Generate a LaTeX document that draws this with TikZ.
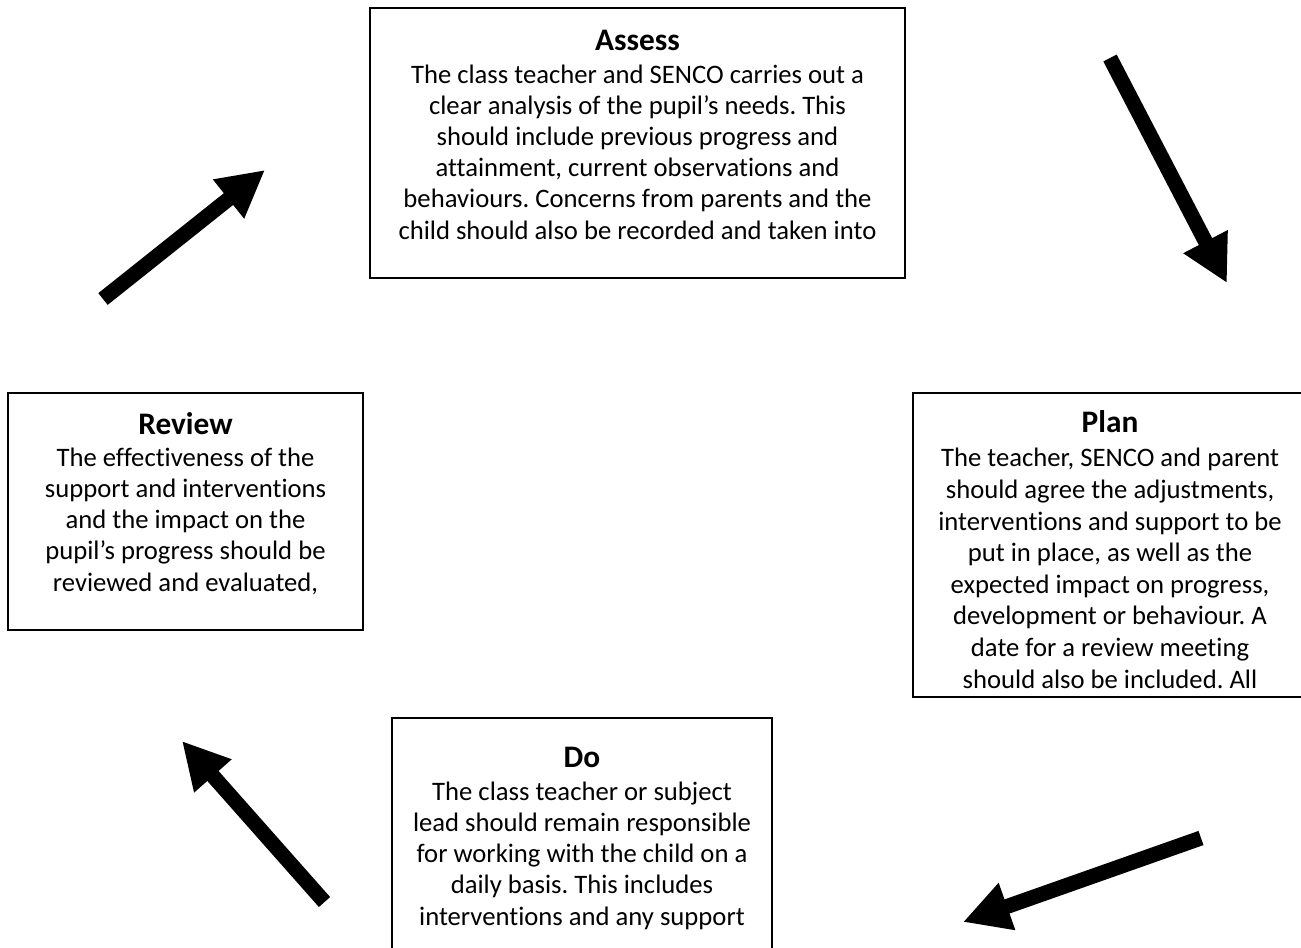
\documentclass[tikz,border=0pt]{standalone}
\usepackage{fontspec}
\setmainfont{Carlito}[Ligatures=NoCommon]
\usetikzlibrary{arrows.meta}
\frenchspacing
\begin{document}
\begin{tikzpicture}[x=0.75pt,y=-0.75pt,
  box/.style={draw=black, line width=1pt, inner sep=0, fill=none},
  ttl/.style={font=\fontsize{23.5}{26}\selectfont\bfseries, anchor=base, inner sep=0},
  body/.style={font=\fontsize{20}{23.3}\selectfont, align=center, anchor=base, inner sep=0},
  arr/.style={line width=11.25pt, -{Triangle[width=35pt,length=35pt]}}]
\useasboundingbox (0,0) rectangle (1301,947);
\clip (0,0) rectangle (1301,947);
% boxes
\node[box, minimum width=401.25pt, minimum height=202.5pt] (assess) at (637.5,143) {};
\node[box, minimum width=266.25pt, minimum height=177.75pt] (review) at (185.5,511.5) {};
\node[box, minimum width=297pt, minimum height=228pt] (plan) at (1111,545) {};
\node[box, minimum width=285pt, minimum height=189pt] (do) at (582,844) {};
% texts (body nodes anchored at the baseline of their last line)
\node[ttl] (assessT) at (637.5,50) {Assess};
\node[body] (assessB) at (637.5,239) {The class teacher and SENCO carries out a\\clear analysis of the pupil’s needs. This\\should include previous progress and\\attainment, current observations and\\behaviours. Concerns from parents and the\\child should also be recorded and taken into};
\node[ttl] (reviewT) at (185.5,434) {Review};
\node[body] (reviewB) at (185.5,591) {The effectiveness of the\\support and interventions\\and the impact on the\\pupil’s progress should be\\reviewed and evaluated,};
\node[ttl] (planT) at (1110,432) {Plan};
\node[body, font=\fontsize{20}{23.7}\selectfont] (planB) at (1110,688) {The teacher, SENCO and parent\\should agree the adjustments,\\interventions and support to be\\put in place, as well as the\\expected impact on progress,\\development or behaviour. A\\date for a review meeting\\should also be included. All};
\node[ttl] (doT) at (582,767) {Do};
\node[body] (doB) at (582,925) {The class teacher or subject\\lead should remain responsible\\for working with the child on a\\daily basis. This includes\\interventions and any support};
% arrows
\coordinate (a1s) at (103,299); \coordinate (a1e) at (265,170);
\coordinate (a2s) at (1110,58); \coordinate (a2e) at (1227,283);
\coordinate (a3s) at (1201,838); \coordinate (a3e) at (963,922);
\coordinate (a4s) at (324.5,902); \coordinate (a4e) at (182,741);
\draw[arr] (a1s) -- (a1e);
\draw[arr] (a2s) -- (a2e);
\draw[arr] (a3s) -- (a3e);
\draw[arr] (a4s) -- (a4e);
\end{tikzpicture}
\end{document}
